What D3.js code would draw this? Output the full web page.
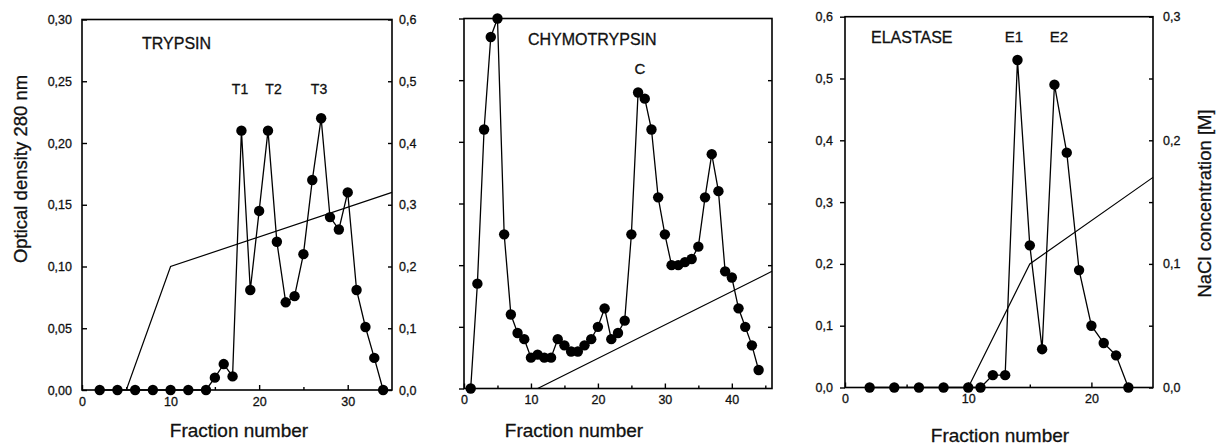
<!DOCTYPE html>
<html>
<head>
<meta charset="utf-8">
<script src="https://cdn.jsdelivr.net/npm/d3@7"></script>
<style>
  body { margin: 0; background: #fff; }
  svg { display: block; font-family: Arial, "Liberation Sans", sans-serif; }
  text { fill: #111; stroke: #111; stroke-width: 0.3px; }
</style>
</head>
<body>
<svg id="chart" width="1227" height="447"></svg>
<script>
// trypsin (OD on 0-0.30, NaCl on right 0-0.6)
const trypsinFraction = [2, 4, 6, 8, 10, 12, 14, 15, 16, 17, 18, 19, 20, 21, 22, 23, 24, 25, 26, 27, 28, 29, 30, 31, 32, 33, 34];
const trypsinOD = [0, 0, 0, 0, 0, 0, 0, 0.01, 0.021, 0.011, 0.21, 0.081, 0.145, 0.21, 0.12, 0.071, 0.076, 0.11, 0.17, 0.22, 0.14, 0.13, 0.16, 0.081, 0.051, 0.026, 0];
const trypsinSaltFraction = [5, 10, 35];
const trypsinSalt = [0, 0.2, 0.32];

// chymotrypsin (no labels, 0-0.6 scale)
const chymoFraction = [1, 2, 3, 4, 5, 6, 7, 8, 9, 10, 11, 12, 13, 14, 15, 16, 17, 18, 19, 20, 21, 22,
  23, 24, 25, 26, 27, 28, 29, 30, 31, 32, 33, 34, 35, 36, 37, 38, 39, 40, 41, 42, 43, 44];
const chymoOD = [0, 0.17, 0.42, 0.57, 0.6, 0.25, 0.12, 0.09, 0.08, 0.05, 0.055, 0.05, 0.05, 0.08, 0.07, 0.06, 0.06, 0.07, 0.08, 0.10, 0.13, 0.08,
  0.09, 0.11, 0.25, 0.48, 0.47, 0.42, 0.31, 0.25, 0.20, 0.20, 0.205, 0.21, 0.23, 0.31, 0.38, 0.32, 0.19, 0.18, 0.13, 0.10, 0.07, 0.03];
const chymoSaltFraction = [11, 46];
const chymoSalt = [0, 0.19];

// elastase (OD 0-0.6, NaCl on right 0-0.3)
const elastaseFraction = [2, 4, 6, 8, 10, 11, 12, 13, 14, 15, 16, 17, 18, 19, 20, 21, 22, 23];
const elastaseOD = [0, 0, 0, 0, 0, 0, 0.02, 0.02, 0.53, 0.23, 0.062, 0.49, 0.38, 0.19, 0.10, 0.072, 0.052, 0];
const elastaseSaltFraction = [10, 15, 25];
const elastaseSalt = [0, 0.1, 0.17];

const commaFmt = p => v => d3.format("." + p + "f")(v).replace(".", ",");

const svg = d3.select("#chart");

function panel(cfg) {
  const g = svg.append("g");
  const x = d3.scaleLinear().domain([0, cfg.xMax]).range(cfg.xRange);
  const y = d3.scaleLinear().domain([0, cfg.yMax]).range(cfg.yRange);
  const y2 = d3.scaleLinear().domain([0, cfg.y2Max]).range(cfg.yRange);
  const ySalt = cfg.saltOnRight ? y2 : y;

  // minor x ticks
  g.append("g")
    .attr("transform", `translate(0,${cfg.yRange[0]})`)
    .call(d3.axisBottom(x).tickValues(cfg.xMinor).tickSizeInner(-3).tickSizeOuter(0).tickFormat(""))
    .call(a => a.select(".domain").remove());

  g.append("g")
    .attr("transform", `translate(0,${cfg.yRange[0]})`)
    .call(d3.axisBottom(x).tickValues(cfg.xTicks).tickSizeInner(-5).tickSizeOuter(0).tickPadding(7).tickFormat(d3.format("d")))
    .call(a => a.select(".domain").remove())
    .call(a => a.selectAll("text").attr("font-size", 12.5));

  const left = d3.axisLeft(y).tickValues(cfg.yTicks).tickSizeOuter(0)
    .tickSizeInner(cfg.leftIn ? -5 : 5).tickPadding(cfg.leftIn ? 10 : 7)
    .tickFormat(cfg.yLabels ? commaFmt(cfg.yDigits) : "");
  g.append("g")
    .attr("transform", `translate(${cfg.xRange[0]},0)`)
    .call(left)
    .call(a => a.select(".domain").remove())
    .call(a => a.selectAll("text").attr("font-size", 12.5));

  const right = d3.axisRight(y2).tickValues(cfg.y2Ticks).tickSizeOuter(0)
    .tickSizeInner(-4).tickPadding(cfg.y2Pad)
    .tickFormat(v => cfg.y2Labels.includes(v) ? commaFmt(1)(v) : "");
  g.append("g")
    .attr("transform", `translate(${cfg.xRange[1]},0)`)
    .call(right)
    .call(a => a.select(".domain").remove())
    .call(a => a.selectAll("text").attr("font-size", 12.5));

  g.selectAll(".tick line").attr("stroke", "#000").attr("stroke-width", 1.4);

  g.append("rect")
    .attr("x", cfg.xRange[0]).attr("y", cfg.yRange[1])
    .attr("width", cfg.xRange[1] - cfg.xRange[0])
    .attr("height", cfg.yRange[0] - cfg.yRange[1])
    .attr("fill", "none").attr("stroke", "#000").attr("stroke-width", 1.6);

  const salt = cfg.saltX.map((f, i) => [f, cfg.saltY[i]]);
  g.append("path")
    .attr("d", d3.line().x(d => x(d[0])).y(d => ySalt(d[1]))(salt))
    .attr("fill", "none").attr("stroke", "#000").attr("stroke-width", 1.2);

  const pts = cfg.fx.map((f, i) => [f, cfg.od[i]]);
  g.append("path")
    .attr("d", d3.line().x(d => x(d[0])).y(d => y(d[1]))(pts))
    .attr("fill", "none").attr("stroke", "#000").attr("stroke-width", 1.3);

  g.selectAll("circle")
    .data(pts)
    .join("circle")
    .attr("cx", d => x(d[0]))
    .attr("cy", d => y(d[1]))
    .attr("r", 5.2)
    .attr("fill", "#000");

  g.append("text")
    .attr("x", (cfg.xRange[0] + cfg.xRange[1]) / 2 + cfg.titleDx)
    .attr("y", cfg.titleY)
    .attr("dy", "0.35em")
    .attr("text-anchor", "middle")
    .attr("font-size", 19)
    .text("Fraction number");

  g.selectAll(".lbl")
    .data(cfg.labels)
    .join("text")
    .attr("class", "lbl")
    .attr("x", d => d.x)
    .attr("y", d => d.y)
    .attr("dy", "0.35em")
    .attr("text-anchor", d => d.anchor || "middle")
    .attr("font-size", d => d.size)
    .text(d => d.t);
}

panel({
  xMax: 35, xRange: [82, 392], yMax: 0.30, yRange: [390, 19.5], y2Max: 0.6,
  xTicks: [0, 10, 20, 30], xMinor: [5, 15, 25],
  yTicks: [0, 0.05, 0.10, 0.15, 0.20, 0.25, 0.30], yLabels: true, yDigits: 2, leftIn: true,
  y2Ticks: [0, 0.1, 0.2, 0.3, 0.4, 0.5, 0.6], y2Labels: [0, 0.1, 0.2, 0.3, 0.4, 0.5, 0.6], y2Pad: 7,
  saltOnRight: true, saltX: trypsinSaltFraction, saltY: trypsinSalt,
  fx: trypsinFraction, od: trypsinOD,
  titleDx: 2, titleY: 430,
  labels: [
    { t: "TRYPSIN", x: 142, y: 43, size: 16, anchor: "start" },
    { t: "T1", x: 240, y: 89, size: 14 },
    { t: "T2", x: 273.5, y: 89, size: 14 },
    { t: "T3", x: 319, y: 89, size: 14 }
  ]
});

panel({
  xMax: 46, xRange: [464, 772], yMax: 0.6, yRange: [388.5, 18.5], y2Max: 0.6,
  xTicks: [0, 10, 20, 30, 40], xMinor: [5, 15, 25, 35, 45],
  yTicks: [0, 0.1, 0.2, 0.3, 0.4, 0.5, 0.6], yLabels: false, leftIn: false,
  y2Ticks: [0.1, 0.2, 0.3, 0.4, 0.5], y2Labels: [], y2Pad: 7,
  saltOnRight: false, saltX: chymoSaltFraction, saltY: chymoSalt,
  fx: chymoFraction, od: chymoOD,
  titleDx: -44, titleY: 430,
  labels: [
    { t: "CHYMOTRYPSIN", x: 528, y: 39.5, size: 16, anchor: "start" },
    { t: "C", x: 640, y: 68.5, size: 15 }
  ]
});

panel({
  xMax: 25, xRange: [845, 1153], yMax: 0.6, yRange: [387.5, 16.7], y2Max: 0.3,
  xTicks: [0, 10, 20], xMinor: [5, 15],
  yTicks: [0, 0.1, 0.2, 0.3, 0.4, 0.5, 0.6], yLabels: true, yDigits: 1, leftIn: false,
  y2Ticks: [0, 0.05, 0.1, 0.15, 0.2, 0.25, 0.3], y2Labels: [0, 0.1, 0.2, 0.3], y2Pad: 10,
  saltOnRight: true, saltX: elastaseSaltFraction, saltY: elastaseSalt,
  fx: elastaseFraction, od: elastaseOD,
  titleDx: 1, titleY: 435,
  labels: [
    { t: "ELASTASE", x: 871, y: 37, size: 16, anchor: "start" },
    { t: "E1", x: 1014, y: 37, size: 15 },
    { t: "E2", x: 1059, y: 37, size: 15 }
  ]
});

svg.append("text")
  .attr("transform", "translate(21,169) rotate(-90)")
  .attr("dy", "0.35em")
  .attr("text-anchor", "middle")
  .attr("font-size", 18.5)
  .text("Optical density 280 nm");

svg.append("text")
  .attr("transform", "translate(1205,203.5) rotate(-90)")
  .attr("dy", "0.35em")
  .attr("text-anchor", "middle")
  .attr("font-size", 18.5)
  .text("NaCl concentration [M]");
</script>
</body>
</html>
